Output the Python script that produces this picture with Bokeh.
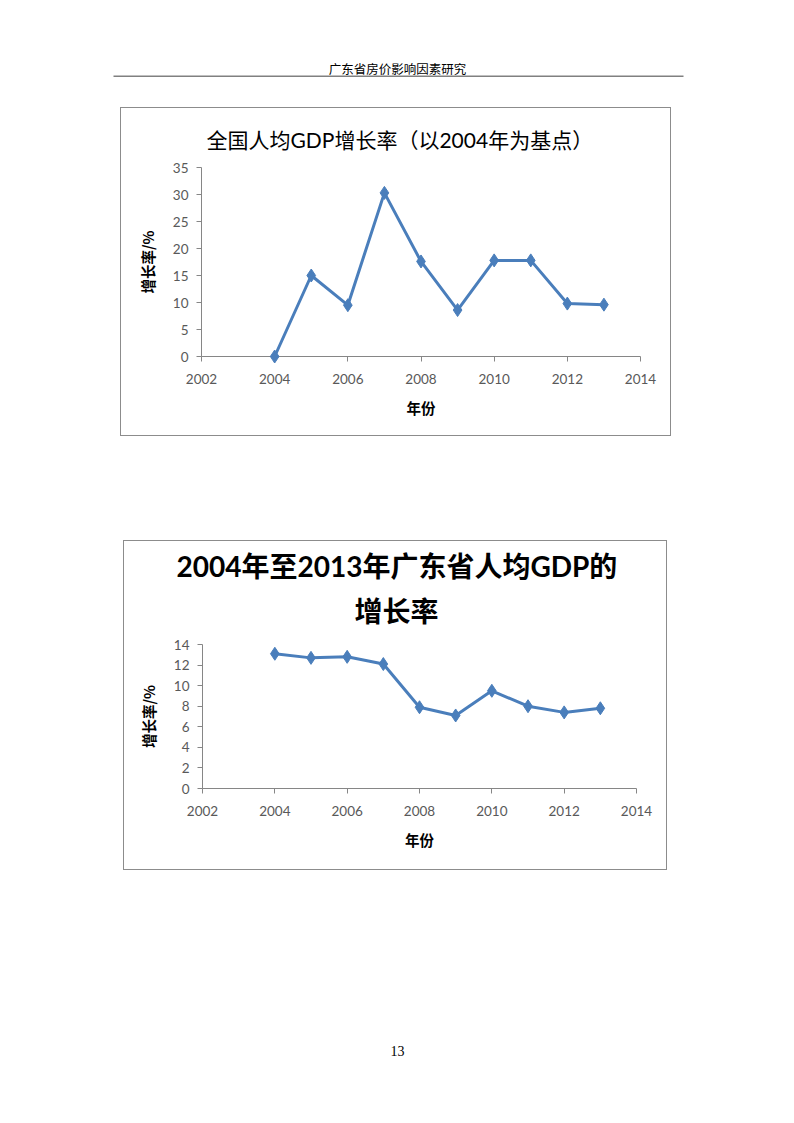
from bokeh.plotting import figure
from bokeh.layouts import column, row
from bokeh.models import Range1d, FixedTicker, Title, Spacer
from bokeh.core.properties import value
from bokeh.embed import file_html
from bokeh.resources import INLINE

# ---------------- data ----------------
header_text = "广东省房价影响因素研究"
page_number = "13"

years = [2004, 2005, 2006, 2007, 2008, 2009, 2010, 2011, 2012, 2013]
national_growth = [0.0, 15.0, 9.5, 30.3, 17.6, 8.6, 17.8, 17.8, 9.8, 9.6]
guangdong_growth = [13.1, 12.7, 12.8, 12.1, 7.9, 7.1, 9.5, 8.0, 7.4, 7.8]

x_ticks = [2002, 2004, 2006, 2008, 2010, 2012, 2014]
y_ticks_1 = [0, 5, 10, 15, 20, 25, 30, 35]
y_ticks_2 = [0, 2, 4, 6, 8, 10, 12, 14]

title_1 = ["全国人均GDP增长率（以2004年为基点）"]
title_2 = ["2004年至2013年广东省人均GDP的", "增长率"]
x_label = "年份"
y_label = "增长率/%"

CJK = "Noto Sans CJK SC"
LAT = "Lato, 'Noto Sans CJK SC'"
BLUE = "#4a7ebb"


def page_fig(height, y0, y1):
    p = figure(width=786, height=height, x_range=Range1d(0, 786), y_range=Range1d(y1, y0),
               output_backend="svg", toolbar_location=None,
               min_border=0, min_border_left=0, min_border_right=0,
               min_border_top=0, min_border_bottom=0)
    p.axis.visible = False
    p.grid.visible = False
    p.outline_line_color = None
    p.background_fill_color = "white"
    p.border_fill_color = "white"
    return p


def chart(vals, yticks, ymax, w, h, left, right, top, bottom, titles, tsize,
          toffsets, tstandoffs, tweight):
    p = figure(width=w, height=h, x_range=Range1d(2002, 2014), y_range=Range1d(0, ymax),
               output_backend="svg", toolbar_location=None,
               min_border_left=left, min_border_right=right,
               min_border_top=top, min_border_bottom=bottom,
               styles={"border": "1.5px solid #8c8c8c", "box-sizing": "border-box"})
    p.outline_line_color = None
    p.grid.visible = False
    # titles added nearest-to-frame first
    for t, off, st in reversed(list(zip(titles, toffsets, tstandoffs))):
        p.add_layout(Title(text=t, align="left", offset=off, standoff=st,
                           text_font=LAT, text_font_size=tsize,
                           text_font_style=tweight, text_color="black"), "above")
    for ax in (p.xaxis[0], p.yaxis[0]):
        ax.axis_line_color = "#868686"
        ax.major_tick_line_color = "#868686"
        ax.major_tick_in = 0
        ax.major_tick_out = 5
        ax.minor_tick_line_color = None
        ax.major_label_text_font = LAT
        ax.major_label_text_font_size = "13.5px"
        ax.major_label_text_color = "#595959"
        ax.axis_label_text_font = CJK
        ax.axis_label_text_font_size = "14.5px"
        ax.axis_label_text_font_style = "bold"
        ax.axis_label_text_color = "black"
    p.xaxis.major_label_standoff = 12
    p.yaxis.major_label_standoff = 8
    p.xaxis.ticker = FixedTicker(ticks=x_ticks)
    p.yaxis.ticker = FixedTicker(ticks=yticks)
    p.xaxis.axis_label = x_label
    p.yaxis.axis_label = y_label
    p.xaxis.axis_label_standoff = 10
    p.yaxis.axis_label_standoff = 12
    p.line(years, vals, line_color=BLUE, line_width=3, level="overlay")
    p.scatter(years, vals, marker="diamond", size=13, fill_color=BLUE, line_color=BLUE,
              level="overlay")
    return p


header = page_fig(107, 0, 107)
header.text(x=[397], y=[68], text=[header_text], text_font=value(CJK), text_font_size="12.5px",
            text_align="center", text_baseline="middle", text_color="black")
header.segment(x0=[113], y0=[75.7], x1=[683], y1=[75.7], line_color="#808080", line_width=1.5)

c1 = chart(national_growth, y_ticks_1, 35, 551, 329, 80, 32, 59, 81, title_1, "21px",
           [5], [32], "normal")
c2 = chart(guangdong_growth, y_ticks_2, 14, 544, 330, 78, 32, 103, 83, title_2, "28px",
           [-26, 152], [-16, 34], "bold")

footer = page_fig(245, 870, 1115)
footer.text(x=[397], y=[1050], text=[page_number], text_font=value("Liberation Serif"),
            text_font_size="14px", text_align="center", text_baseline="middle", text_color="black")

layout = column(
    header,
    row(Spacer(width=120, height=329), c1),
    Spacer(width=10, height=104),
    row(Spacer(width=123, height=330), c2),
    footer,
)

open("out.html", "w").write(file_html(layout, INLINE))
